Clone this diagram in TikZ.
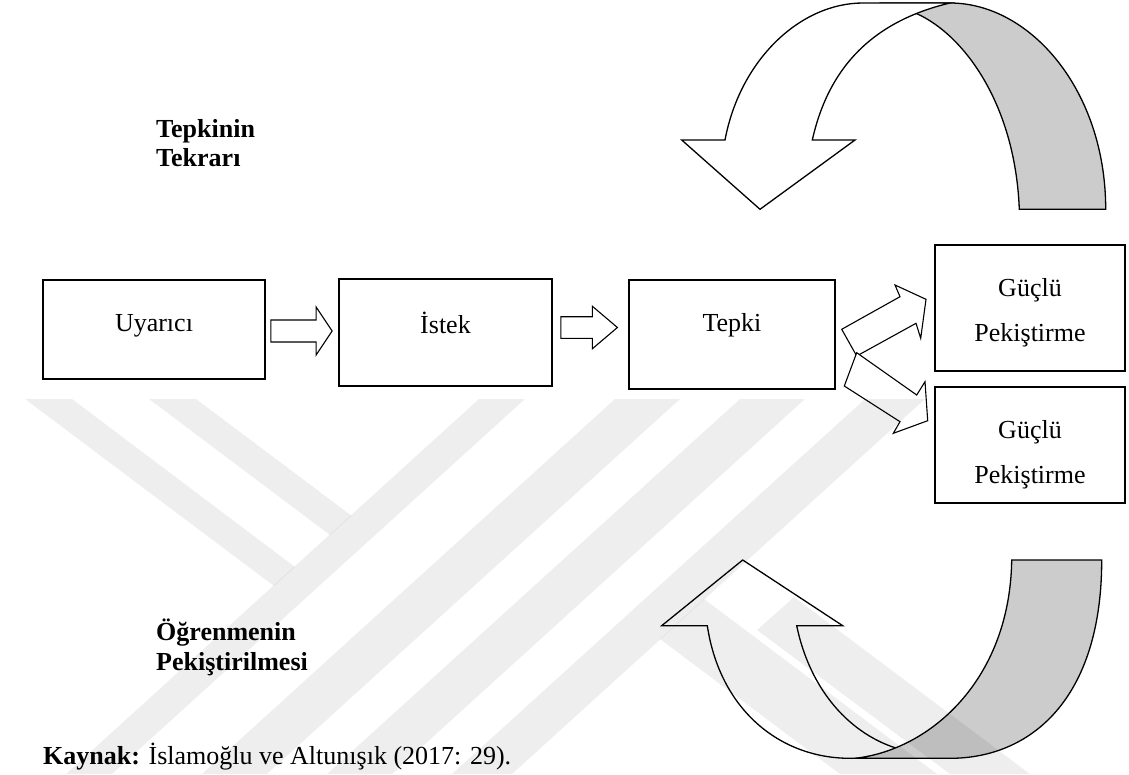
\documentclass[tikz,border=0pt]{standalone}
\usepackage{fontspec}
\setmainfont{Liberation Serif}
\usetikzlibrary{calc}
\definecolor{bandgrey}{RGB}{204,204,204}
\begin{document}
\begin{tikzpicture}[x=1pt,y=-1pt,
  font=\fontsize{26pt}{30pt}\selectfont,
  box/.style={draw=black,line width=1.8pt,fill=white,inner sep=0pt},
  blockarrow/.style={draw=black,line width=1.1pt,fill=white,line join=miter},
  hbarrow/.style n args={3}{to path={let \p1=(\tikztostart),\p2=(\tikztotarget) in
      (\x1,\y1+#1) -- (\x2-#3,\y1+#1) -- (\x2-#3,\y1+#2) -- (\x2,\y1)
      -- (\x2-#3,\y1-#2) -- (\x2-#3,\y1-#1) -- (\x1,\y1-#1) -- cycle}},
  curveband/.style={draw=black,line width=1.3pt,line join=miter},
  boxtext/.style={anchor=base,inner sep=0pt},
  heading/.style={anchor=base west,inner sep=0pt,font=\fontsize{26pt}{30pt}\selectfont\bfseries},
  wmstripe/.style={fill=black,fill opacity=0.065,draw=none}
]
\useasboundingbox (0,0) rectangle (1129,774);

% process boxes
\node[box,minimum width=222pt,minimum height=99pt]  (uyarici) at (154,329.5) {};
\node[box,minimum width=213pt,minimum height=107pt] (istek)   at (445.5,332.5) {};
\node[box,minimum width=206pt,minimum height=109pt] (tepki)   at (732,334.5) {};
\node[box,minimum width=190pt,minimum height=126pt] (guclua)  at (1030,308) {};
\node[box,minimum width=190pt,minimum height=116pt] (guclub)  at (1030,444.7) {};

\node[boxtext] (tuyarici) at (154,331.7) {Uyarıcı};
\node[boxtext] (tistek)   at (445.5,333.3) {İstek};
\node[boxtext] (ttepki)   at (732,331.7) {Tepki};
\node[boxtext] (tguclua)  at (1030,296.7) {Güçlü};
\node[boxtext] (tpekisa)  at (1030,341.7) {Pekiştirme};
\node[boxtext] (tguclub)  at (1030,438) {Güçlü};
\node[boxtext] (tpekisb)  at (1030,483) {Pekiştirme};

% block arrows along the chain
\draw[blockarrow,hbarrow={11pt}{24pt}{16pt}]
  ([xshift=5pt,yshift=-1.5pt]uyarici.east) to ([xshift=-6pt]istek.west);
\draw[blockarrow,hbarrow={10.8pt}{21.2pt}{25pt}]
  ([xshift=8pt,yshift=5pt]istek.east) to ([xshift=-10.7pt]tepki.west);

% slanted block arrows towards the two reinforcement boxes
\draw[blockarrow] (841.7,329.3) -- (900,296.7) -- (895,285) -- (926,299.3)
  -- (920.7,338.3) -- (916,323.3) -- (856.7,356) -- cycle;
\draw[blockarrow] (856.7,352.7) -- (916.7,395) -- (925,381.7) -- (927.7,420.7)
  -- (893.3,433.3) -- (900,421.7) -- (844.3,386) -- cycle;

% upper curved arrow: shaded back part, then the front band with its head
\draw[curveband,fill=bandgrey] (912,11.7) .. controls (960,30) and (1015,100) .. (1019.3,209.3)
  -- (1105.7,209.3) .. controls (1105.7,90) and (1030,3) .. (950,3)
  -- (880,3) -- (870,30) -- cycle;
\draw[curveband,fill=white] (725,140) -- (681.7,140) -- (760,209.3) -- (855,140) -- (812.3,140)
  .. controls (828,70) and (870,22) .. (950,3) -- (863,3)
  .. controls (800,3) and (740,60) .. (725,140) -- cycle;

% lower curved arrow: front band with its head, then the shaded part over it
\draw[curveband,fill=white] (707.3,625.7) -- (661.7,625.7) -- (742.7,560) -- (842.7,625.7) -- (796.7,625.7)
  .. controls (810,690) and (850,735) .. (900,749.3) -- (920,758.3) -- (850,758.3)
  .. controls (780,758.3) and (720,710) .. (707.3,625.7) -- cycle;
\draw[curveband,fill=bandgrey] (1011.7,560) -- (1101.7,560)
  .. controls (1101.7,700) and (1030,758.3) .. (950,758.3) -- (855,758.3)
  .. controls (930,750) and (1010,680) .. (1011.7,560) -- cycle;

% side labels and source line
\node[heading] (tekrar1) at (156,137)   {Tepkinin};
\node[heading] (tekrar2) at (156,166.7) {Tekrarı};
\node[heading] (pekis1)  at (156,640.7) {Öğrenmenin};
\node[heading] (pekis2)  at (156,670)   {Pekiştirilmesi};
\node[anchor=base west,inner sep=0pt] (kaynak) at (43,764)
  {\textbf{Kaynak:} İslamoğlu ve Altunışık (2017: 29).};

% faint diagonal stripes of the page stamp
\fill[wmstripe] (25,399) -- (72,399) -- (295,567) -- (274,586) -- cycle;
\fill[wmstripe] (149,399) -- (196,399) -- (351.5,515.7) -- (330,535) -- cycle;
\fill[wmstripe] (479,399) -- (525,399) -- (112,774) -- (66,774) -- cycle;
\fill[wmstripe] (615,399) -- (680,399) -- (267,774) -- (202,774) -- cycle;
\fill[wmstripe] (740,399) -- (805,399) -- (392,774) -- (327,774) -- cycle;
\fill[wmstripe] (865,399) -- (925,399) -- (512,774) -- (452,774) -- cycle;
\fill[wmstripe] (660,639) -- (704,599) -- (937,774) -- (840,774) -- cycle;
\fill[wmstripe] (757,630) -- (794,597) -- (1030,774) -- (950,774) -- cycle;
\end{tikzpicture}
\end{document}
